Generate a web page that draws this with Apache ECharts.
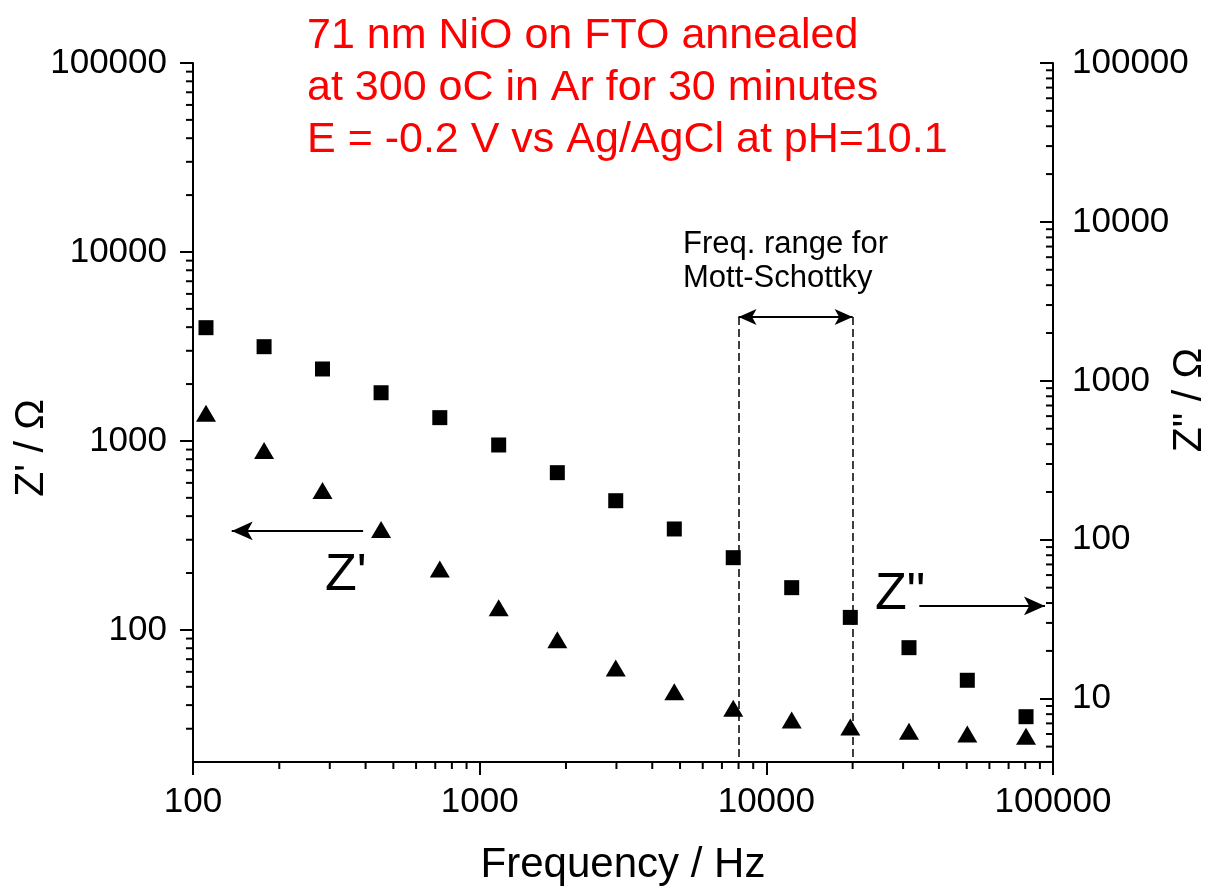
<!DOCTYPE html>
<html>
<head>
<meta charset="utf-8">
<script src="https://cdn.jsdelivr.net/npm/echarts@6/dist/echarts.min.js"></script>
<style>
html, body { margin: 0; padding: 0; background: #fff; }
#chart { width: 1209px; height: 888px; }
</style>
</head>
<body>
<div id="chart"></div>
<script>
// measurement frequencies (Hz)
var freq = [111, 177, 283, 453, 726, 1165, 1866, 2983, 4775, 7666, 12260, 19630, 31450, 50240, 80520];
// Z' on the left axis (triangles)
var zReal = [1401, 890, 547, 340, 210, 131, 88.8, 62.9, 47.1, 38.5, 33.4, 30.6, 29.1, 28.1, 27.4];
// Z'' on the right axis (squares)
var zImag = [2161, 1641, 1188, 842, 587, 395, 264.5, 176.2, 117, 77.2, 50.0, 32.5, 20.96, 13.07, 7.71];

// axis ranges
var xRange = [100, 100000];
var leftRange = [20, 100000];
var rightRange = [4, 100000];

// minor tick values (2..9 of each decade)
var xMinor = [200, 300, 400, 500, 600, 700, 800, 900,
  2000, 3000, 4000, 5000, 6000, 7000, 8000, 9000,
  20000, 30000, 40000, 50000, 60000, 70000, 80000, 90000];
var leftMinor = [30, 40, 50, 60, 70, 80, 90,
  200, 300, 400, 500, 600, 700, 800, 900,
  2000, 3000, 4000, 5000, 6000, 7000, 8000, 9000,
  20000, 30000, 40000, 50000, 60000, 70000, 80000, 90000];
var rightMinor = [5, 6, 7, 8, 9,
  20, 30, 40, 50, 60, 70, 80, 90,
  200, 300, 400, 500, 600, 700, 800, 900,
  2000, 3000, 4000, 5000, 6000, 7000, 8000, 9000,
  20000, 30000, 40000, 50000, 60000, 70000, 80000, 90000];

// Mott-Schottky frequency window (Hz) and top of its markers (left axis units)
var msRange = [8000, 20000];
var msTop = 4530;

var FONT = '"Liberation Sans", Arial, sans-serif';

var chart = echarts.init(document.getElementById('chart'));

function tickSeries(vals, yIndex, at, kind) {
  return {
    type: 'custom',
    xAxisIndex: 0,
    yAxisIndex: yIndex,
    silent: true,
    animation: false,
    z: 5,
    data: vals.map(function (v) { return kind === 'x' ? [v, at] : [at, v]; }),
    renderItem: function (params, api) {
      var p = api.coord([api.value(0), api.value(1)]);
      var shape;
      if (kind === 'x') shape = { x1: p[0], y1: p[1], x2: p[0], y2: p[1] + 7 };
      else shape = { x1: p[0] - 7, y1: p[1], x2: p[0], y2: p[1] };
      return { type: 'line', shape: shape, style: { stroke: '#000', lineWidth: 2, opacity: 1 } };
    }
  };
}

var axisCommon = {
  type: 'log',
  logBase: 10,
  axisLine: { show: true, onZero: false, lineStyle: { color: '#000', width: 2, opacity: 1 } },
  axisTick: { show: true, length: 13, lineStyle: { color: '#000', width: 2, opacity: 1 } },
  splitLine: { show: false },
  minorTick: { show: false },
  axisLabel: {
    color: '#000', fontSize: 35, fontFamily: FONT,
    formatter: function (v) { return String(Math.round(v)); }
  }
};

var dash = { color: '#000', width: 1.5, type: [8, 4], opacity: 1 };
var solid = { color: '#000', width: 2, type: 'solid', opacity: 1 };

chart.setOption({
  animation: false,
  backgroundColor: '#fff',
  grid: { left: 193, right: 156, top: 63, bottom: 126, containLabel: false, outerBoundsMode: 'none' },
  xAxis: Object.assign({}, axisCommon, {
    min: xRange[0], max: xRange[1], position: 'bottom',
    axisLabel: Object.assign({}, axisCommon.axisLabel, { margin: 23 }),
    name: 'Frequency / Hz', nameLocation: 'middle', nameGap: 82,
    nameTextStyle: { color: '#000', fontSize: 42, fontFamily: FONT }
  }),
  yAxis: [
    Object.assign({}, axisCommon, {
      min: leftRange[0], max: leftRange[1], position: 'left',
      axisLabel: Object.assign({}, axisCommon.axisLabel, { margin: 26, showMinLabel: false })
    }),
    Object.assign({}, axisCommon, {
      min: rightRange[0], max: rightRange[1], position: 'right',
      axisTick: { show: true, inside: true, length: 13, lineStyle: { color: '#000', width: 2, opacity: 1 } },
      axisLabel: Object.assign({}, axisCommon.axisLabel, { margin: 19, showMinLabel: false })
    })
  ],
  graphic: [
    { type: 'text', x: 307, y: 36, style: { text: '71 nm NiO on FTO annealed', font: '43px ' + FONT, fill: '#ff0000', align: 'left', verticalAlign: 'middle' } },
    { type: 'text', x: 307, y: 88, style: { text: 'at 300 oC in Ar for 30 minutes', font: '43px ' + FONT, fill: '#ff0000', align: 'left', verticalAlign: 'middle' } },
    { type: 'text', x: 307, y: 140, style: { text: 'E = -0.2 V vs Ag/AgCl at pH=10.1', font: '43px ' + FONT, fill: '#ff0000', align: 'left', verticalAlign: 'middle' } },
    { type: 'text', x: 683, y: 244, style: { text: 'Freq. range for', font: '31px ' + FONT, fill: '#000', align: 'left', verticalAlign: 'middle' } },
    { type: 'text', x: 683, y: 278, style: { text: 'Mott-Schottky', font: '31px ' + FONT, fill: '#000', align: 'left', verticalAlign: 'middle' } },
    { type: 'text', x: 325, y: 576, style: { text: "Z'", font: '52px ' + FONT, fill: '#000', align: 'left', verticalAlign: 'middle' } },
    { type: 'text', x: 875, y: 595, style: { text: 'Z"', font: '52px ' + FONT, fill: '#000', align: 'left', verticalAlign: 'middle' } },
    { type: 'text', x: 32, y: 448, rotation: Math.PI / 2, style: { text: "Z' / \u03A9", font: '41px ' + FONT, fill: '#000', align: 'center', verticalAlign: 'middle' } },
    { type: 'text', x: 1190, y: 400, rotation: Math.PI / 2, style: { text: 'Z" / \u03A9', font: '41px ' + FONT, fill: '#000', align: 'center', verticalAlign: 'middle' } }
  ],
  series: [
    {
      name: "Z'",
      type: 'scatter',
      xAxisIndex: 0,
      yAxisIndex: 0,
      symbol: 'triangle',
      symbolSize: [20, 17],
      itemStyle: { color: '#000', opacity: 1 },
      z: 3,
      data: freq.map(function (f, i) { return [f, zReal[i]]; }),
      markLine: {
        silent: true,
        animation: false,
        symbol: 'none',
        label: { show: false },
        emphasis: { disabled: true },
        z: 2,
        data: [
          [{ coord: [msRange[0], msTop], lineStyle: dash }, { coord: [msRange[0], leftRange[0]] }],
          [{ coord: [msRange[1], msTop], lineStyle: dash }, { coord: [msRange[1], leftRange[0]] }],
          [{ coord: [msRange[0], msTop], lineStyle: solid, symbol: 'arrow', symbolSize: [12, 18] },
           { coord: [msRange[1], msTop], symbol: 'arrow', symbolSize: [12, 18] }],
          [{ coord: [392, 334], lineStyle: solid, symbol: 'none' },
           { coord: [136.5, 334], symbol: 'arrow', symbolSize: [14, 21] }],
          [{ coord: [34170, 134], lineStyle: solid, symbol: 'none' },
           { coord: [93760, 134], symbol: 'arrow', symbolSize: [14, 21] }]
        ]
      }
    },
    {
      name: 'Z"',
      type: 'scatter',
      xAxisIndex: 0,
      yAxisIndex: 1,
      symbol: 'rect',
      symbolSize: 15,
      itemStyle: { color: '#000', opacity: 1 },
      z: 3,
      data: freq.map(function (f, i) { return [f, zImag[i]]; })
    },
    tickSeries(xMinor, 0, leftRange[0], 'x'),
    tickSeries(leftMinor, 0, xRange[0], 'y'),
    tickSeries(rightMinor, 1, xRange[1], 'y')
  ]
});
</script>
</body>
</html>
